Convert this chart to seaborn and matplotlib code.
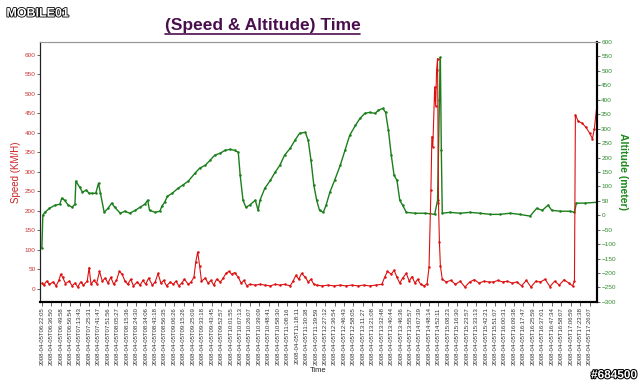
import matplotlib
matplotlib.use("Agg")
import matplotlib.pyplot as plt
import matplotlib.patheffects as pe
from matplotlib.lines import Line2D
import seaborn as sns
import pandas as pd

# tick labels along the time axis (one every 10 samples)
times = ["06:22:05", "06:36:50", "06:49:58", "06:56:54", "07:13:43", "07:25:31", "07:41:47",
         "07:51:56", "08:05:27", "08:15:36", "08:24:30", "08:34:06", "08:43:18", "08:56:35",
         "09:06:26", "09:15:26", "09:25:09", "09:33:18", "09:43:45", "09:52:57", "10:01:55",
         "10:07:13", "10:26:07", "10:39:09", "10:48:41", "10:58:30", "11:08:16", "11:18:11",
         "11:30:38", "11:39:59", "12:27:12", "12:36:54", "12:46:43", "12:58:05", "13:11:27",
         "13:21:08", "13:32:48", "13:40:44", "13:46:36", "13:55:57", "14:07:39", "14:48:14",
         "14:52:11", "15:08:23", "15:16:30", "15:23:57", "15:33:13", "15:42:21", "15:51:07",
         "16:00:31", "16:09:38", "16:17:47", "16:25:59", "16:37:01", "16:47:34", "16:58:07",
         "17:06:59", "17:23:38", "17:26:07"]
tick_labels = ["2008-04-05T" + t for t in times]
tick_step = 10

# speed (km/h) by sample index
speed_idx = [0, 2, 5, 8, 12, 15, 18, 20, 22, 25, 29, 32, 35, 38, 41, 44, 48, 50, 52, 55, 58,
             61, 64, 67, 70, 73, 76, 79, 82, 85, 88, 91, 94, 97, 101, 104, 107, 110, 113, 117,
             120, 123, 126, 129, 132, 136, 139, 142, 145, 148, 151, 155, 158, 161, 163, 165,
             167, 169, 173, 176, 179, 182, 185, 189, 192, 195, 198, 201, 204, 208, 211, 214,
             217, 220, 226, 231, 236, 242, 247, 252, 257, 263, 266, 269, 272, 275, 279, 282,
             285, 288, 291, 297, 303, 309, 316, 322, 328, 335, 341, 347, 354, 360, 363, 366,
             370, 373, 376, 379, 382, 386, 389, 392, 395, 398, 401, 405, 408, 410, 412, 413,
             414, 416, 417, 418, 419, 420, 421, 422, 424, 428, 433, 438, 443, 448, 453, 458,
             463, 468, 473, 478, 483, 488, 493, 498, 503, 508, 513, 518, 523, 528, 533, 538,
             543, 548, 553, 558, 562, 564, 565, 568, 572, 576, 580, 583, 585, 588]
speed = [15, 10, 20, 12, 18, 8, 22, 38, 30, 14, 20, 8, 15, 5, 18, 10, 20, 55, 12, 22, 14,
         45, 20, 28, 15, 30, 12, 22, 45, 38, 20, 12, 25, 8, 18, 10, 22, 12, 28, 10,
         18, 40, 15, 22, 8, 18, 12, 20, 8, 15, 25, 12, 18, 30, 70, 95,
         60, 20, 28, 15, 22, 10, 25, 18, 28, 40, 45, 38, 42, 30, 15, 22,
         8, 12, 10, 12, 10, 8, 12, 10, 12, 8, 20, 35, 25, 40, 30, 18,
         25, 12, 10, 8, 10, 8, 10, 8, 10, 8, 10, 8, 10, 12, 30, 45,
         38, 48, 30, 15, 28, 40, 20, 32, 15, 25, 12, 8, 14, 56, 254, 390,
         365, 518, 470, 560, 590, 220, 120, 60, 25, 18, 22, 12, 20, 5, 18, 24,
         15, 20, 18, 18, 22, 18, 20, 15, 18, 8, 22, 5, 20, 18, 25, 6,
         20, 10, 24, 15, 8, 20, 446, 430, 425, 415, 400, 385, 410, 475]

# altitude (m) by sample index
alt_idx = [0, 1, 3, 8, 14, 19, 21, 24, 28, 32, 35, 36, 40, 43, 47, 50, 53, 57, 60, 62, 66,
           70, 74, 77, 83, 88, 93, 99, 104, 109, 112, 114, 120, 125, 127, 130, 133, 138, 144,
           149, 155, 162, 167, 173, 178, 183, 189, 194, 199, 204, 208, 210, 213, 216, 220,
           226, 229, 231, 236, 242, 247, 252, 257, 263, 268, 273, 279, 282, 285, 288, 291,
           294, 298, 301, 305, 310, 316, 321, 326, 332, 337, 342, 347, 353, 356, 361, 364,
           367, 370, 373, 376, 379, 382, 386, 395, 406, 416, 419, 421, 422, 423, 424, 432,
           443, 453, 464, 475, 485, 496, 506, 517, 524, 530, 536, 540, 549, 559, 564, 566,
           575, 588]
alt = [-114, 0, 10, 24, 35, 38, 59, 52, 35, 28, 38, 118, 97, 80, 87, 76, 76, 76, 111, 76, 10,
       24, 42, 28, 7, 14, 7, 17, 28, 38, 52, 17, 10, 14, 31, 45, 66, 76, 93,
       104, 118, 145, 163, 173, 190, 208, 215, 225, 228, 225, 218, 138, 52, 28, 35,
       52, 17, 52, 93, 121, 149, 173, 208, 232, 260, 284, 287, 260, 190, 104, 52,
       17, 10, 35, 80, 121, 173, 225, 277, 311, 336, 353, 356, 353, 363, 370, 356,
       294, 208, 138, 121, 52, 35, 10, 7, 7, 3, 52, 398, 547, 225, 7, 10,
       7, 10, 7, 3, 3, 7, 3, -3, 24, 17, 35, 17, 14, 14, 10, 42,
       42, 45]

speed_df = pd.DataFrame({"sample": speed_idx, "speed": speed})
alt_df = pd.DataFrame({"sample": alt_idx, "alt": alt})

sns.set_style("white")
plt.rcParams["font.family"] = ["Liberation Sans", "DejaVu Sans"]

fig = plt.figure(figsize=(6.4, 3.89), dpi=100)
ax = fig.add_axes([0.0625, 0.224, 0.8705, 0.668])
ax2 = ax.twinx()

red = "#DD1111"
green = "#1B7F1B"

sns.lineplot(data=speed_df, x="sample", y="speed", ax=ax, color=red, linewidth=0.8,
             marker="o", markersize=1.8, markeredgewidth=0, estimator=None, sort=False)
sns.lineplot(data=alt_df, x="sample", y="alt", ax=ax2, color=green, linewidth=1.0,
             marker="o", markersize=1.8, markeredgewidth=0, estimator=None, sort=False)
ax.set_zorder(ax2.get_zorder() + 1)
ax.patch.set_visible(False)

ax.set_xlim(-2, 588)
ax.set_ylim(-33, 633)
ax2.set_ylim(-300, 600)

ax.set_xticks([i * tick_step for i in range(len(tick_labels))])
ax.set_xticklabels(tick_labels, rotation=90, fontsize=4.3, color="#333333")
ax.set_yticks(range(0, 601, 50))
ax.tick_params(axis="y", labelsize=4.6, labelcolor="#CC3333", length=2, width=0.5, pad=1)
ax.tick_params(axis="x", length=3, width=0.5, pad=1, bottom=True)
ax2.set_yticks(range(-300, 601, 50))
ax2.tick_params(axis="y", labelsize=4.6, labelcolor="#2E8B2E", length=2, width=0.5, pad=1)

ax.set_xlabel("Time", fontsize=5.5, labelpad=1)
ax.set_ylabel("Speed (KM/H)", fontsize=7, color="#CC2222", labelpad=3)
ax2.set_ylabel("Altitude (meter)", fontsize=7.5, color="#1B8A1B", fontweight="bold",
               rotation=-90, labelpad=9)

for a in (ax, ax2):
    a.spines["top"].set_color("#999999")
    a.spines["top"].set_linewidth(0.8)
    a.spines["left"].set_color("#222222")
    a.spines["left"].set_linewidth(0.8)
    a.spines["right"].set_color("black")
    a.spines["right"].set_linewidth(1.5)
    a.spines["bottom"].set_color("black")
    a.spines["bottom"].set_linewidth(1.5)

title = fig.text(0.41, 0.935, "(Speed & Altitude) Time", ha="center", va="center",
                 fontsize=12.5, fontweight="bold", color="#4A0E4E",
                 family=["Liberation Sans", "DejaVu Sans"])

fig.text(0.01, 0.965, "MOBILE01", ha="left", va="center", fontsize=9, fontweight="bold",
         color="white", path_effects=[pe.withStroke(linewidth=1.2, foreground="black")])
fig.text(0.995, 0.02, "#684500", ha="right", va="bottom", fontsize=8.5, fontweight="bold",
         color="white", path_effects=[pe.withStroke(linewidth=1.5, foreground="black")])

# underline the title
fig.canvas.draw()
bb = title.get_window_extent().transformed(fig.transFigure.inverted())
fig.add_artist(Line2D([bb.x0, bb.x1], [bb.y0 - 0.004, bb.y0 - 0.004],
                      transform=fig.transFigure, color="#4A0E4E", linewidth=1.2))

fig.savefig("out.png", dpi=100)
